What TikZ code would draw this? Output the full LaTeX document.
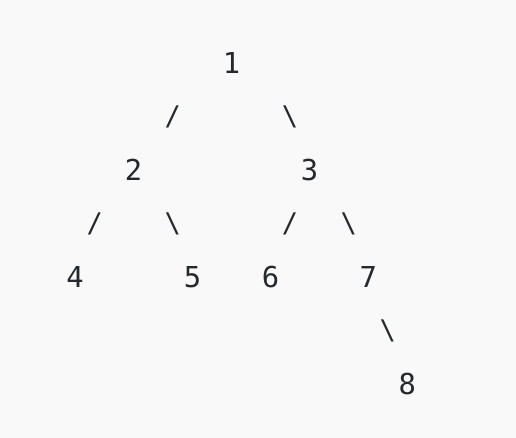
\documentclass[tikz,border=0pt]{standalone}
\usepackage{fontspec}
\newfontfamily\monof{DejaVuSansMono.ttf}
\definecolor{bgcol}{HTML}{F9F9F9}
\definecolor{txtcol}{HTML}{24292E}
\begin{document}
\begin{tikzpicture}[x=1pt,y=-1pt,
  digit/.style={inner sep=0pt,anchor=base,text=txtcol,font=\monof\fontsize{28.8}{30}\selectfont},
  edgech/.style={inner sep=0pt,anchor=center,text=txtcol,font=\monof\fontsize{27}{30}\selectfont}]
\fill[bgcol] (0,0) rectangle (516,438);
\useasboundingbox (0,0) rectangle (516,438);
% digits
\node[digit] (n1) at (231.5,74) {1};
\node[digit] (n2) at (133.6,180.7) {2};
\node[digit] (n3) at (309.6,180.7) {3};
\node[digit] (n4) at (75,287.3) {4};
\node[digit] (n5) at (192.5,287.3) {5};
\node[digit] (n6) at (270.5,287.3) {6};
\node[digit] (n7) at (368.2,287.3) {7};
\node[digit] (n8) at (407.3,394) {8};
% edge characters
\node[edgech] (s12) at (172.7,117) {/};
\node[edgech] (s13) at (290,117) {\textbackslash};
\node[edgech] (s24) at (94.8,224) {/};
\node[edgech] (s25) at (172.7,224) {\textbackslash};
\node[edgech] (s36) at (290,224) {/};
\node[edgech] (s37) at (348.7,224) {\textbackslash};
\node[edgech] (s78) at (387.8,331) {\textbackslash};
\end{tikzpicture}
\end{document}
